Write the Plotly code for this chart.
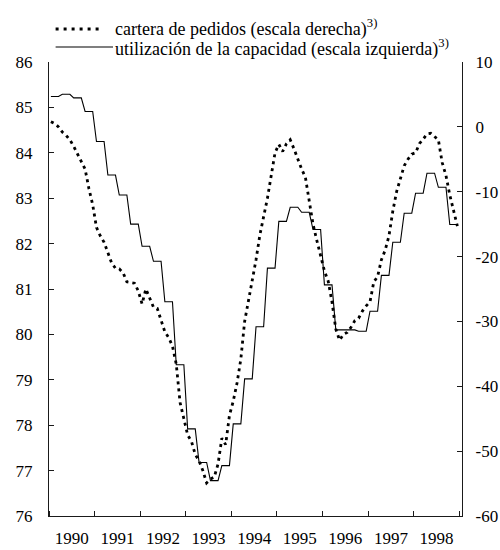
import numpy as np
import plotly.graph_objects as go

# Calendar span and year labels
years = list(range(1990, 1999))
year_labels = [str(y) for y in years]

# Capacity utilisation, quarterly (%), left scale
cap_util_q = [
    85.24, 85.29, 85.21, 84.91,   # 1990
    84.25, 83.51, 83.07, 82.43,   # 1991
    81.94, 81.61, 80.72, 79.33,   # 1992
    77.92, 77.18, 76.78, 77.11,   # 1993
    78.03, 79.02, 80.17, 81.46,   # 1994
    82.49, 82.80, 82.69, 82.31,   # 1995
    81.09, 80.10, 80.10, 80.07,   # 1996
    80.51, 81.30, 82.03, 82.67,   # 1997
    83.11, 83.55, 83.24, 82.42,   # 1998
]

# Order books, monthly balance, right scale
order_books = [
    0.8, 0.5, 0.0, -0.8, -1.3, -2.0, -3.0, -4.2, -5.3, -6.5, -9.5, -12.0,              # 1990
    -15.5, -16.8, -17.8, -19.5, -21.0, -21.8, -21.9, -22.5, -23.9, -24.0, -24.1, -25.3,  # 1991
    -27.3, -25.0, -26.5, -27.8, -28.0, -29.8, -31.6, -32.5, -33.8, -36.6, -42.5, -45.0,  # 1992
    -47.5, -48.5, -50.5, -51.5, -53.0, -54.9, -54.3, -54.0, -52.0, -48.0, -49.0, -44.5,  # 1993
    -42.3, -39.5, -35.8, -30.0, -27.0, -23.5, -20.5, -16.7, -14.0, -11.0, -7.5, -4.0,    # 1994
    -2.7, -3.8, -2.6, -2.0, -3.4, -5.0, -6.5, -7.8, -11.5, -15.0, -17.5, -20.0,          # 1995
    -22.2, -23.8, -27.0, -31.2, -32.9, -32.0, -31.7, -30.9, -29.9, -29.5, -28.4, -27.6,  # 1996
    -27.0, -23.9, -23.1, -20.5, -19.0, -16.8, -13.0, -10.0, -8.0, -6.0, -5.0, -4.2,      # 1997
    -4.0, -2.6, -1.9, -1.1, -1.0, -1.5, -2.0, -5.5, -7.5, -10.5, -13.0, -15.3,           # 1998
]

left_ticks = list(range(76, 87))
right_ticks = list(range(-60, 11, 10))
right_labels = [str(v) for v in right_ticks]   # plain hyphen-minus

# Mid-month positions on a decimal-year axis
n_months = len(order_books)
t_month = 1990 + (np.arange(n_months) + 0.5) / 12.0
cap_util_m = np.repeat(cap_util_q, 3)

FONT = "Liberation Serif, Times New Roman, serif"
INK = "#1a1a1a"

fig = go.Figure()
fig.add_trace(go.Scatter(
    x=t_month, y=cap_util_m, mode="lines", yaxis="y",
    line=dict(color="black", width=1.1), showlegend=False, hoverinfo="skip",
))
fig.add_trace(go.Scatter(
    x=t_month, y=order_books, mode="lines", yaxis="y2",
    line=dict(color="black", width=2.8, dash="3px,4px"), showlegend=False, hoverinfo="skip",
))

axis_common = dict(
    showgrid=False, zeroline=False, showline=True, automargin=False,
    linecolor=INK, linewidth=1.3,
    tickcolor=INK, tickwidth=1.2,
    tickfont=dict(family=FONT, size=17, color="black"),
)

fig.update_layout(
    width=500, height=550,
    margin=dict(l=49, r=38, t=62, b=34, autoexpand=False),
    paper_bgcolor="white", plot_bgcolor="white",
    xaxis=dict(
        range=[1990, 1999.06],
        tickmode="array",
        tickvals=[y + 0.5 for y in years],
        ticktext=year_labels,
        ticks="",
        minor=dict(tickvals=years + [years[-1] + 1], ticks="inside",
                   ticklen=5, tickcolor=INK, tickwidth=1.2),
        ticklabelstandoff=6,
        **axis_common,
    ),
    yaxis=dict(
        range=[76, 86],
        tickmode="array", tickvals=left_ticks,
        ticks="inside", ticklen=5,
        ticklabelstandoff=12,
        **axis_common,
    ),
    yaxis2=dict(
        range=[-60, 10],
        overlaying="y", side="right",
        tickmode="array", tickvals=right_ticks, ticktext=right_labels,
        ticks="inside", ticklen=5,
        ticklabelstandoff=9,
        **axis_common,
    ),
)

# Key above the plot
legend_font = dict(family=FONT, size=18, color="black")

fig.add_shape(type="line", xref="paper", yref="paper",
              x0=0.016, x1=0.1300, y0=1.0727, y1=1.0727,
              line=dict(color="black", width=2.8, dash="3px,5px"))
fig.add_shape(type="line", xref="paper", yref="paper",
              x0=0.016, x1=0.155, y0=1.0330, y1=1.0330,
              line=dict(color="black", width=1.1))

fig.add_annotation(xref="paper", yref="paper", x=0.155, y=1.0749,
                   xanchor="left", yanchor="middle", showarrow=False,
                   text="cartera de pedidos (escala derecha)<sup>3)</sup>",
                   font=legend_font)
fig.add_annotation(xref="paper", yref="paper", x=0.155, y=1.0308,
                   xanchor="left", yanchor="middle", showarrow=False,
                   text="utilización de la capacidad (escala izquierda)<sup>3)</sup>",
                   font=legend_font)

fig.write_html("out.html")
